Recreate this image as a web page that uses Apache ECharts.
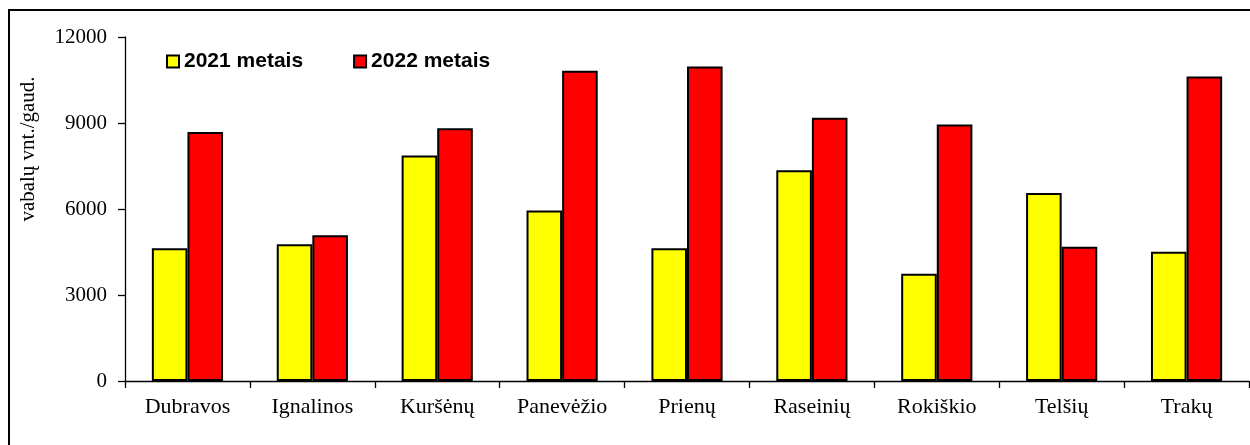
<!DOCTYPE html>
<html>
<head>
<meta charset="utf-8">
<script src="https://cdn.jsdelivr.net/npm/echarts@6/dist/echarts.min.js"></script>
<style>
  html, body { margin: 0; padding: 0; background: #fff; }
  #chart { width: 1250px; height: 445px; }
</style>
</head>
<body>
<div id="chart"></div>
<script>
// Beetle catches per trap by forest enterprise, 2021 vs 2022
const categories = ['Dubravos', 'Ignalinos', 'Kuršėnų', 'Panevėžio', 'Prienų', 'Raseinių', 'Rokiškio', 'Telšių', 'Trakų'];
const values2021 = [4630, 4770, 7870, 5950, 4630, 7350, 3740, 6560, 4510];
const values2022 = [8690, 5080, 8820, 10820, 10970, 9180, 8950, 4680, 10620];
const seriesNames = ['2021 metais', '2022 metais'];
const yTicks = { min: 0, max: 12000, interval: 3000 };
const yTitle = 'vabalų vnt./gaud.';

const serif = 'Liberation Serif, Times New Roman, serif';
const sans = 'Liberation Sans, Arial, sans-serif';

const chart = echarts.init(document.getElementById('chart'), null, { renderer: 'canvas' });

chart.setOption({
  animation: false,
  backgroundColor: '#fff',
  graphic: [
    {
      // outer chart frame
      type: 'rect',
      shape: { x: 9, y: 10, width: 1400, height: 600 },
      style: { fill: 'none', stroke: '#000', lineWidth: 2 },
      silent: true,
      z: 0
    },
    {
      // value axis title
      type: 'text',
      x: 28,
      y: 149,
      rotation: Math.PI / 2,
      style: {
        text: yTitle,
        fontFamily: serif,
        fontSize: 21,
        fill: '#000',
        align: 'center',
        verticalAlign: 'middle'
      },
      silent: true,
      z: 10
    }
  ],
  grid: { left: 125, right: 1, top: 37, bottom: 64, containLabel: false },
  legend: {
    left: 166,
    top: 51,
    padding: 0,
    itemWidth: 12,
    itemHeight: 12,
    itemGap: 50,
    icon: 'rect',
    itemStyle: { borderColor: '#000', borderWidth: 2 },
    textStyle: { fontFamily: sans, fontSize: 21, fontWeight: 'bold', color: '#000' },
    data: seriesNames
  },
  xAxis: {
    type: 'category',
    data: categories,
    axisLine: { show: true, lineStyle: { color: '#000', width: 1.3 } },
    axisTick: { show: true, length: 7, lineStyle: { color: '#000', width: 1.3 } },
    axisLabel: { fontFamily: serif, fontSize: 22, color: '#000', margin: 15, interval: 0 }
  },
  yAxis: {
    type: 'value',
    min: yTicks.min,
    max: yTicks.max,
    interval: yTicks.interval,
    axisLine: { show: true, lineStyle: { color: '#000', width: 1.3 } },
    axisTick: { show: true, length: 7, lineStyle: { color: '#000', width: 1.3 } },
    splitLine: { show: false },
    axisLabel: {
      fontFamily: serif,
      fontSize: 21,
      color: '#000',
      margin: 18,
      formatter: function (v) { return String(v); }
    }
  },
  series: [
    {
      name: seriesNames[0],
      type: 'bar',
      data: values2021,
      barGap: '0%',
      barCategoryGap: '43%',
      itemStyle: { color: '#ffff00', borderColor: '#000', borderWidth: 2 }
    },
    {
      name: seriesNames[1],
      type: 'bar',
      data: values2022,
      barGap: '0%',
      barCategoryGap: '43%',
      itemStyle: { color: '#ff0000', borderColor: '#000', borderWidth: 2 }
    }
  ]
});
</script>
</body>
</html>
